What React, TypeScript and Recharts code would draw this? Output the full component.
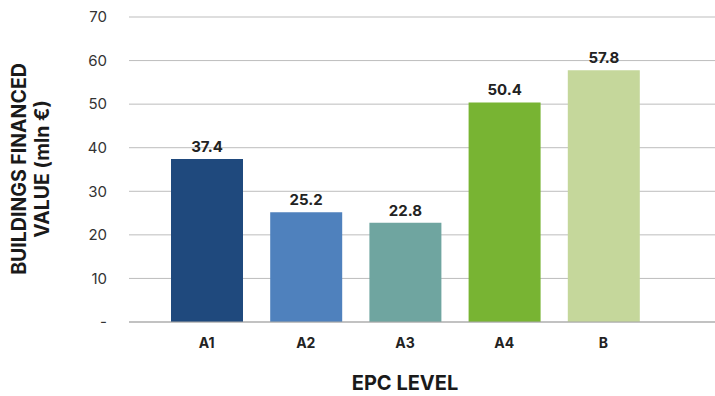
import { BarChart, Bar, XAxis, YAxis, CartesianGrid, LabelList, Cell } from 'recharts';

const epcLevels = ['A1', 'A2', 'A3', 'A4', 'B'];
const financedValues = [37.4, 25.2, 22.8, 50.4, 57.8];
const barColors = ['#1f497d', '#4f81bd', '#6fa5a0', '#78b433', '#c5d79b'];
const yTicks = [0, 10, 20, 30, 40, 50, 60, 70];

const data = epcLevels.map((level, i) => ({ level, value: financedValues[i] }));

const FONT = 'Inter, "Liberation Sans", Arial, sans-serif';

// two-line rotated title on the value axis
const YTitle = () => (
  <g fontFamily={FONT} fontWeight={700} fontSize={19.5} fill="#1a1a1a">
    <text transform="translate(26,169) rotate(-90)" textAnchor="middle">BUILDINGS FINANCED</text>
    <text transform="translate(49,169) rotate(-90)" textAnchor="middle">VALUE (mln €)</text>
  </g>
);

export default function App() {
  return (
    <div style={{ width: 715, height: 396, background: '#fff' }}>
      <style>{'body{margin:0}'}</style>
      <BarChart width={715} height={396} data={data} margin={{ top: 17, right: 0, left: 0, bottom: 0 }}>
        <CartesianGrid vertical={false} stroke="#bdbdbd" />
        <XAxis
          dataKey="level"
          height={74}
          padding={{ left: 28, right: 62 }}
          axisLine={{ stroke: '#a6a6a6' }}
          tickLine={false}
          tickMargin={10}
          tick={{ fontFamily: FONT, fontWeight: 700, fontSize: 14, fill: '#222' }}
          label={{
            value: 'EPC LEVEL',
            position: 'insideBottom',
            offset: 6,
            dx: -17,
            style: { fontFamily: FONT, fontWeight: 700, fontSize: 20, fill: '#1a1a1a' },
          }}
        />
        <YAxis
          width={129}
          domain={[0, 70]}
          ticks={yTicks}
          axisLine={false}
          tickLine={false}
          tickSize={0}
          tickMargin={22}
          tickFormatter={(v: number) => (v === 0 ? '-' : String(v))}
          tick={{ fontFamily: FONT, fontSize: 15, fill: '#333' }}
          label={<YTitle />}
        />
        <Bar dataKey="value" barSize={72} isAnimationActive={false}>
          {data.map((d, i) => (
            <Cell key={d.level} fill={barColors[i]} />
          ))}
          <LabelList
            dataKey="value"
            position="top"
            offset={7}
            style={{ fontFamily: FONT, fontWeight: 700, fontSize: 15, fill: '#222' }}
          />
        </Bar>
      </BarChart>
    </div>
  );
}
